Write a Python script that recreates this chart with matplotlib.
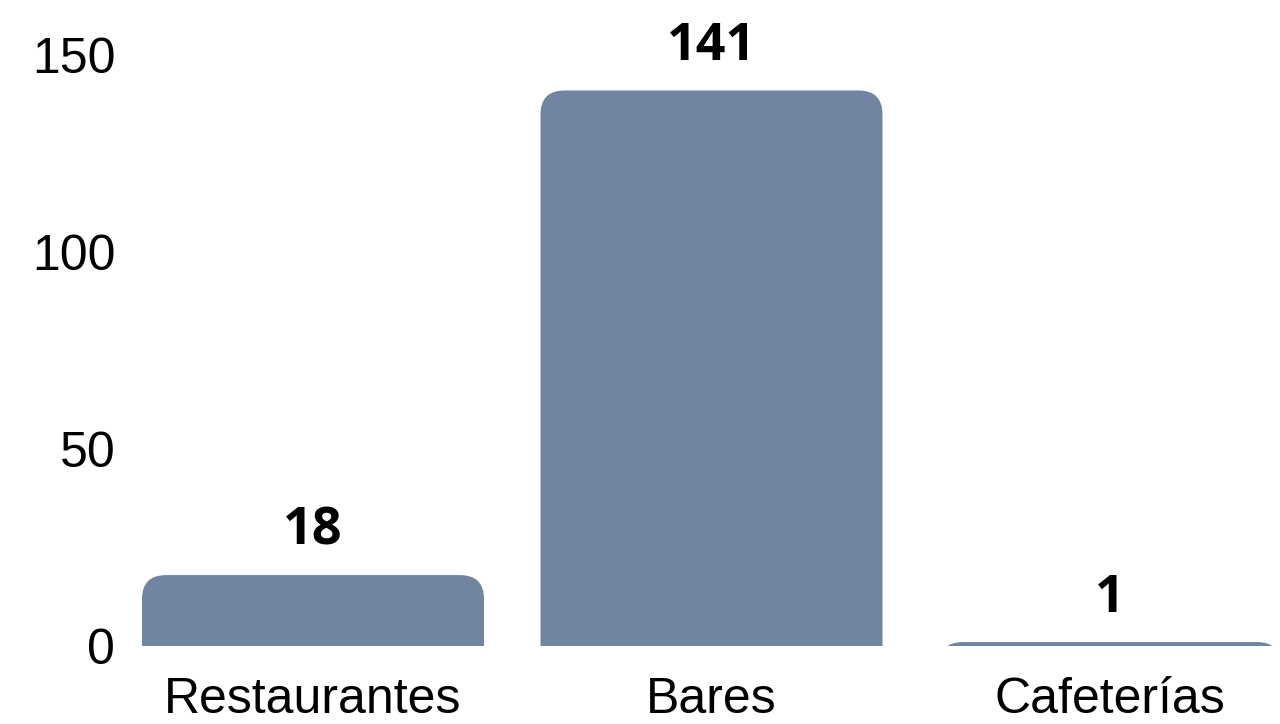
import matplotlib
matplotlib.use("Agg")
import matplotlib.pyplot as plt
from matplotlib.patches import FancyBboxPatch

categories = ["Restaurantes", "Bares", "Cafeterías"]
values = [18, 141, 1]
yticks = [0, 50, 100, 150]

W, H, DPI = 1280, 724, 100
fig = plt.figure(figsize=(W / DPI, H / DPI), dpi=DPI)

# axes geometry in pixels
left_px, right_px = 125, 1280
bottom_px, top_px = 646, 0
ax = fig.add_axes([left_px / W, (H - bottom_px) / H, (right_px - left_px) / W, (bottom_px - top_px) / H])

px_per_x = 398.5
px_per_y = 3.94
x0_px = 313
ax.set_xlim((left_px - x0_px) / px_per_x, (right_px - x0_px) / px_per_x)
ax.set_ylim(0, (bottom_px - top_px) / px_per_y)

bar_w = 342 / px_per_x
radius_px = 24
rs = radius_px / px_per_x
aspect = px_per_x / px_per_y
color = "#7185a1"
ext = 40  # extend below zero so only top corners look rounded

for i, v in enumerate(values):
    p = FancyBboxPatch((i - bar_w / 2, -ext), bar_w, v + ext,
                       boxstyle=f"round,pad=0,rounding_size={rs}",
                       mutation_aspect=aspect, facecolor=color, edgecolor="none")
    ax.add_patch(p)
    ax.annotate(str(v), xy=(i, v), xytext=(0, 22), textcoords="offset points",
                ha="center", va="baseline", fontsize=37.5, fontweight="bold",
                family="Open Sans", color="black")

ax.set_xticks(range(len(categories)))
ax.set_xticklabels(categories, fontsize=36, family="Liberation Sans")
ax.set_yticks(yticks)
ax.set_yticklabels([str(t) for t in yticks], fontsize=36, family="Liberation Sans")
ax.tick_params(length=0)
ax.tick_params(axis="x", pad=22)
ax.tick_params(axis="y", pad=7)
for s in ax.spines.values():
    s.set_visible(False)

fig.savefig("out.png", dpi=DPI)
